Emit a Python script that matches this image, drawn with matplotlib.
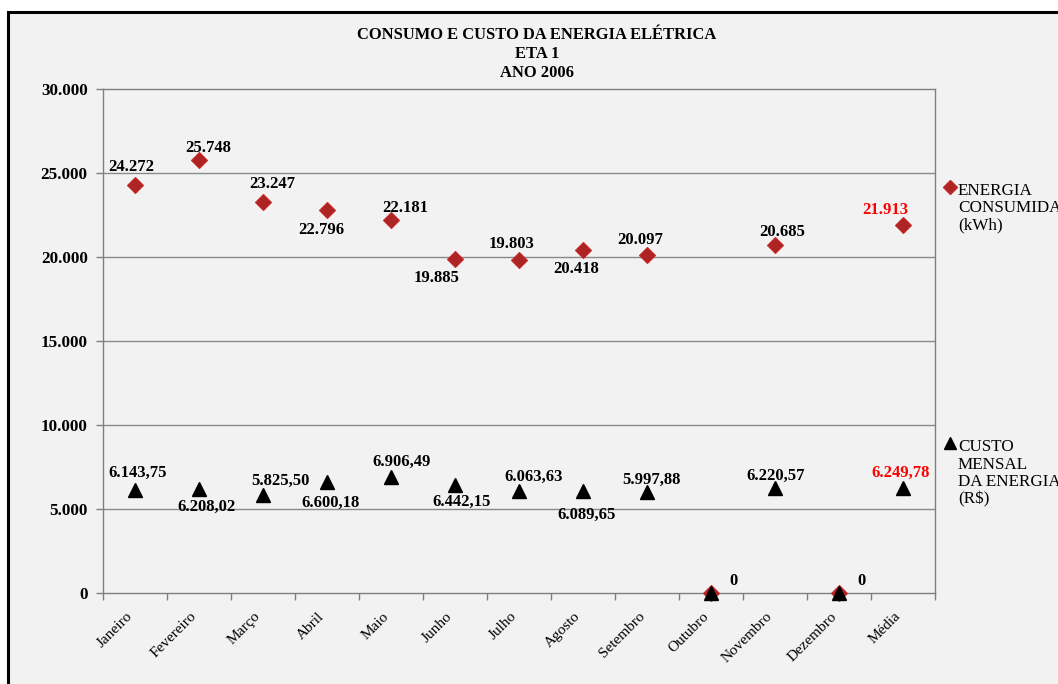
import matplotlib
matplotlib.use("Agg")
import matplotlib.pyplot as plt
from matplotlib.patches import Rectangle
from matplotlib.ticker import FixedLocator, FuncFormatter

# ----- DATA -----
meses = ["Janeiro", "Fevereiro", "Março", "Abril", "Maio", "Junho", "Julho",
         "Agosto", "Setembro", "Outubro", "Novembro", "Dezembro", "Média"]
energia_kwh = [24272, 25748, 23247, 22796, 22181, 19885, 19803,
               20418, 20097, 0, 20685, 0, 21913]
custo_rs = [6143.75, 6208.02, 5825.50, 6600.18, 6906.49, 6442.15, 6063.63,
            6089.65, 5997.88, 0, 6220.57, 0, 6249.78]

# label offsets in pixels (dx, dy downward); None = no label
off_energia = [(-4, -18), (9, -12), (9, -18), (-6, 20), (14, -12), (-18, 19),
               (-7, -16), (-7, 19), (-7, -15), None, (7, -13), None, (-18, -15)]
off_custo = [(3, -17), (7, 18), (17, -14), (4, 21), (11, -15), (7, 17),
             (15, -14), (4, 24), (4, -12), (22, -12), (1, -13), (22, -12), (-2, -15)]

SERIF = "Liberation Serif"
BG = "#f2f2f2"
GRID = "#8a8a8a"


def fmt_int(v):
    return f"{v:,.0f}".replace(",", ".")


def fmt_money(v):
    if v == 0:
        return "0"
    s = f"{v:,.2f}"
    return s.replace(",", "X").replace(".", ",").replace("X", ".")


fig = plt.figure(figsize=(10.58, 6.84), dpi=100, facecolor="white")

# outer chart-area frame
fig.add_artist(Rectangle((8 / 1058, -0.2), 1.2, (684 - 12) / 684 + 0.2,
                         transform=fig.transFigure, facecolor=BG,
                         edgecolor="black", linewidth=2.2, zorder=0))

ax = fig.add_axes([103 / 1058, 91 / 684, 832 / 1058, 504 / 684])
ax.set_facecolor(BG)

x = list(range(len(meses)))
ax.set_xlim(-0.5, len(meses) - 0.5)
ax.set_ylim(0, 30000)

for yv in range(5000, 30000, 5000):
    ax.axhline(yv, color=GRID, linewidth=1.0, zorder=1)

ax.plot(x, energia_kwh, linestyle="none", marker="D", markersize=8.6,
        markerfacecolor="#AE2424", markeredgecolor="#C42B2B",
        markeredgewidth=0.8, clip_on=False, zorder=3)
ax.plot(x, custo_rs, linestyle="none", marker="^", markersize=10,
        color="black", clip_on=False, zorder=4)

for i in x:
    cor = "#FF0000" if meses[i] == "Média" else "black"
    if off_energia[i] is not None:
        dx, dy = off_energia[i]
        ax.annotate(fmt_int(energia_kwh[i]), (i, energia_kwh[i]),
                    xytext=(dx, -dy), textcoords="offset pixels",
                    ha="center", va="center", fontsize=12, fontweight="bold",
                    family=SERIF, color=cor, zorder=5)
    if off_custo[i] is not None:
        dx, dy = off_custo[i]
        ax.annotate(fmt_money(custo_rs[i]), (i, custo_rs[i]),
                    xytext=(dx, -dy), textcoords="offset pixels",
                    ha="center", va="center", fontsize=12, fontweight="bold",
                    family=SERIF, color=cor, zorder=5)

for s in ax.spines.values():
    s.set_color("#7f7f7f")
    s.set_linewidth(1.0)

ax.set_yticks(range(0, 30001, 5000))
ax.yaxis.set_major_formatter(FuncFormatter(lambda v, p: fmt_int(v)))
ax.tick_params(axis="y", direction="out", length=5, width=1, color="#7f7f7f",
               pad=6)
for lab in ax.get_yticklabels():
    lab.set_family(SERIF)
    lab.set_fontweight("bold")
    lab.set_fontsize(12.3)

ax.set_xticks(x)
ax.set_xticklabels(meses, rotation=45, ha="right", va="top",
                   family=SERIF, fontsize=11)
ax.tick_params(axis="x", which="major", length=0, pad=12)
ax.xaxis.set_minor_locator(FixedLocator([i - 0.5 for i in range(len(meses) + 1)]))
ax.tick_params(axis="x", which="minor", direction="out", length=5, width=1,
               color="#7f7f7f")

# title
titulo = ["CONSUMO E CUSTO DA ENERGIA ELÉTRICA", "ETA 1", "ANO 2006"]
for k, linha in enumerate(titulo):
    fig.text(537 / 1058, 1 - (35 + 19 * k) / 684, linha, ha="center",
             va="center", family=SERIF, fontweight="bold", fontsize=11.9)

# legend
fig.lines.append(plt.Line2D([950 / 1058], [1 - 187 / 684], marker="D",
                            markersize=7, markerfacecolor="#AE2424",
                            markeredgecolor="#C42B2B", linestyle="none",
                            transform=fig.transFigure))
fig.text(958 / 1058, 1 - 208 / 684, "ENERGIA\nCONSUMIDA\n(kWh)", ha="left",
         va="center", family=SERIF, fontsize=12.3, linespacing=1.12)
fig.lines.append(plt.Line2D([950 / 1058], [1 - 443 / 684], marker="^",
                            markersize=9, color="black", linestyle="none",
                            transform=fig.transFigure))
fig.text(958 / 1058, 1 - 473.5 / 684, "CUSTO\nMENSAL\nDA ENERGIA\n(R$)",
         ha="left", va="center", family=SERIF, fontsize=12.3, linespacing=1.12)

fig.savefig("out.png", dpi=100, facecolor="white")
